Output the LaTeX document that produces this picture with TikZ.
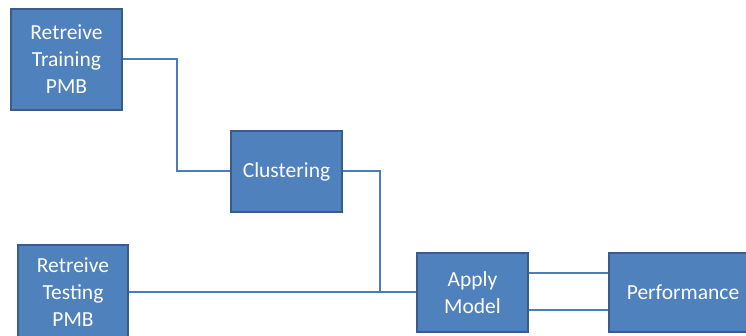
\documentclass[tikz,border=0pt]{standalone}
\usepackage{fontspec}
\setmainfont{Carlito}
\usepackage{tikz}
\usetikzlibrary{positioning,calc}
\definecolor{boxfill}{HTML}{4F81BD}
\definecolor{boxline}{HTML}{385D8A}
\definecolor{wire}{HTML}{4A7EBB}

\begin{document}
\begin{tikzpicture}[x=1pt,y=1pt]
  \tikzstyle{block}=[draw=boxline,line width=1.2pt,fill=boxfill,text=white,
    align=center,inner sep=0pt,font=\fontsize{21.5}{27}\selectfont]
  \tikzstyle{link}=[draw=wire,line width=2pt]
  \useasboundingbox (0,0) rectangle (746,336);

  \node[block,minimum width=111pt,minimum height=101pt] (trn) at (66.5,276.5) {Retreive\\Training\\PMB};
  \node[block,minimum width=111pt,minimum height=81pt] (clu) at (286.5,164.5) {Clustering};
  \node[block,minimum width=110pt,minimum height=95pt] (tst) at (73,43.5) {Retreive\\Testing\\PMB};
  \node[block,minimum width=111pt,minimum height=79pt] (apl) at (472.5,43.5) {Apply\\Model};
  \node[block,minimum width=148pt,minimum height=79pt] (prf) at (683,43.5) {Performance};

  \coordinate (elbow) at (177,220);
  \coordinate (join) at (380,43.5);

  \path[link]
  (trn.east) -| (elbow) |- (clu.west)
  (clu.east) -| (join)
  (tst.east) -- (apl.west)
  ([yshift=19pt]apl.east) -- ([yshift=19pt]prf.west)
  ([yshift=-18pt]apl.east) -- ([yshift=-18pt]prf.west);
\end{tikzpicture}
\end{document}
